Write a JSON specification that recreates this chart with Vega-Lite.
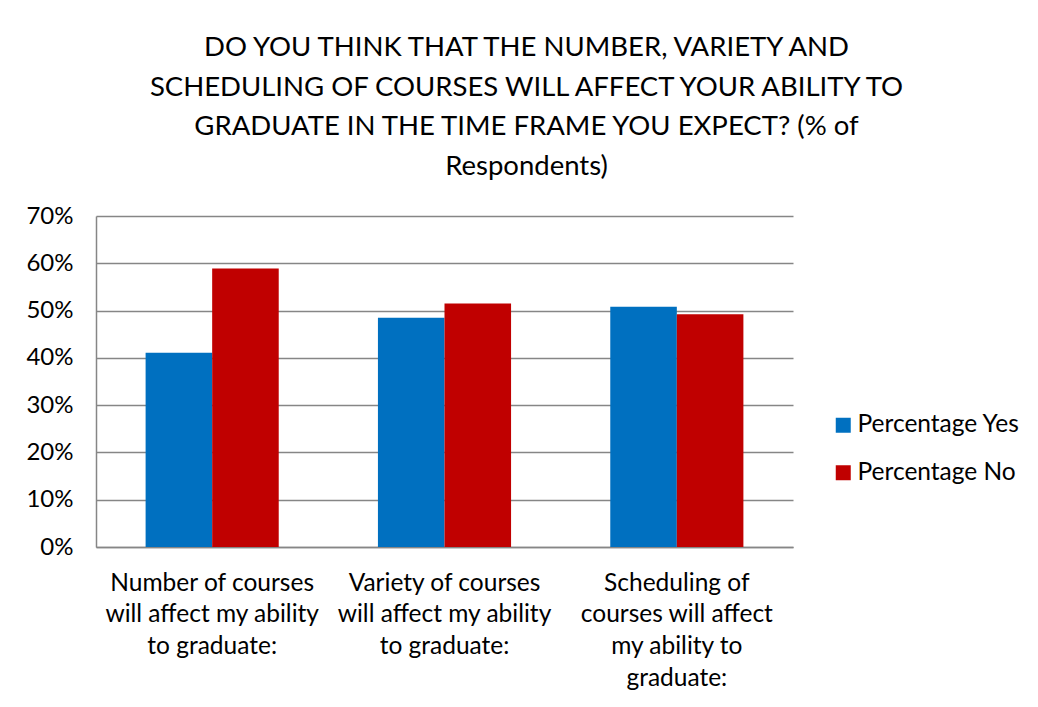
{
  "$schema": "https://vega.github.io/schema/vega-lite/v6.json",
  "width": 697,
  "height": 331,
  "autosize": {"type": "none"},
  "padding": {"left": 96, "top": 216, "right": 245, "bottom": 160},
  "background": "white",
  "title": {
    "text": ["DO YOU THINK THAT THE NUMBER, VARIETY AND", "SCHEDULING OF COURSES WILL AFFECT YOUR ABILITY TO", "GRADUATE IN THE TIME FRAME YOU EXPECT? (% of", "Respondents)"],
    "anchor": "middle",
    "frame": "group",
    "dx": 82,
    "offset": 24,
    "font": "Lato",
    "fontSize": 27.5,
    "fontWeight": "normal",
    "color": "#000000",
    "lineHeight": 39.5,
    "limit": 0
  },
  "data": {
    "values": [
      {"question": "Number of courses|will affect my ability|to graduate:", "response": "Percentage Yes", "value": 0.411},
      {"question": "Number of courses|will affect my ability|to graduate:", "response": "Percentage No", "value": 0.589},
      {"question": "Variety of courses|will affect my ability|to graduate:", "response": "Percentage Yes", "value": 0.485},
      {"question": "Variety of courses|will affect my ability|to graduate:", "response": "Percentage No", "value": 0.515},
      {"question": "Scheduling of|courses will affect|my ability to|graduate:", "response": "Percentage Yes", "value": 0.508},
      {"question": "Scheduling of|courses will affect|my ability to|graduate:", "response": "Percentage No", "value": 0.492}
    ]
  },
  "mark": {"type": "bar"},
  "encoding": {
    "x": {
      "field": "question",
      "type": "nominal",
      "sort": null,
      "scale": {"paddingInner": 0.427, "paddingOuter": 0.2135},
      "axis": {
        "title": null,
        "labelAngle": 0,
        "labelExpr": "split(datum.label, '|')",
        "labelFont": "Lato",
        "labelFontSize": 24.5,
        "labelLineHeight": 31.7,
        "labelColor": "#000000",
        "labelPadding": 24,
        "labelLimit": 400,
        "labelOverlap": false,
        "ticks": false,
        "domainColor": "#868686",
        "domainWidth": 1.5,
        "grid": false
      }
    },
    "xOffset": {
      "field": "response",
      "type": "nominal",
      "sort": ["Percentage Yes", "Percentage No"]
    },
    "y": {
      "field": "value",
      "type": "quantitative",
      "scale": {"domain": [0, 0.7], "nice": false},
      "axis": {
        "title": null,
        "format": ".0%",
        "values": [0, 0.1, 0.2, 0.3, 0.4, 0.5, 0.6, 0.7],
        "labelFont": "Lato",
        "labelFontSize": 24,
        "labelColor": "#000000",
        "labelPadding": 23,
        "ticks": false,
        "domainColor": "#868686",
        "domainWidth": 1.5,
        "grid": true,
        "gridColor": "#868686",
        "gridWidth": 1.3
      }
    },
    "color": {
      "field": "response",
      "type": "nominal",
      "scale": {"domain": ["Percentage Yes", "Percentage No"], "range": ["#0070C0", "#C00000"]},
      "legend": {
        "title": null,
        "orient": "none",
        "legendX": 735,
        "legendY": 197,
        "symbolType": "square",
        "symbolSize": 225,
        "symbolStrokeWidth": 0,
        "labelFont": "Lato",
        "labelFontSize": 24.5,
        "labelColor": "#000000",
        "labelOffset": 2,
        "labelLimit": 400,
        "rowPadding": 22.5
      }
    }
  },
  "config": {
    "view": {"stroke": null},
    "axis": {"labelFontWeight": "normal"}
  }
}
